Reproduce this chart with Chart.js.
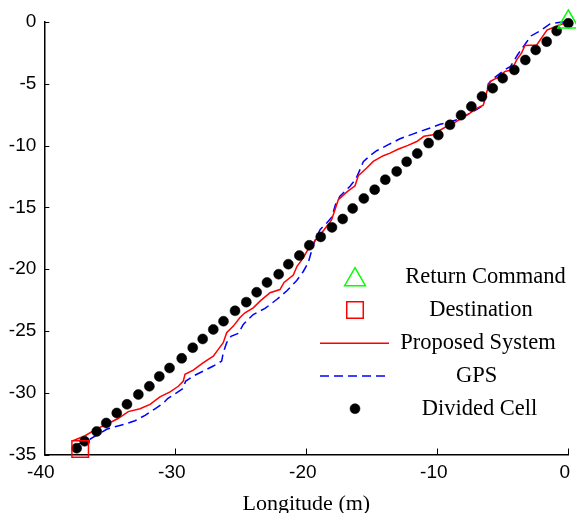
<!DOCTYPE html>
<html>
<head>
<meta charset="utf-8">
<script src="https://cdn.jsdelivr.net/npm/chart.js@4/dist/chart.umd.min.js"></script>
<style>
  html, body { margin: 0; padding: 0; background: #fff; }
  canvas { display: block; }
</style>
</head>
<body>
<canvas id="c" width="576" height="513"></canvas>
<script>
// ---- data ----
const returnCommand = [{x: 0, y: 0}];
const destination = [{x: -37.26, y: -34.56}];

const proposedX = [-37.81,-36.89,-36.0,-35.24,-34.37,-33.59,-32.69,-31.93,-31.17,-30.40,-29.77,-29.39,-29.26,-28.63,-27.86,-27.10,-26.72,-26.34,-26.08,-25.57,-25.06,-24.68,-24.05,-23.53,-22.77,-22.01,-21.70,-20.99,-20.71,-20.23,-19.95,-19.47,-18.80,-18.08,-17.81,-17.56,-16.85,-16.28,-16.03,-15.39,-14.89,-14.12,-13.61,-13.0,-12.24,-11.57,-11.02,-10.31,-9.80,-9.28,-8.65,-8.04,-7.50,-6.97,-6.49,-6.23,-5.98,-5.37,-4.83,-4.32,-3.94,-3.56,-3.31,-2.41,-1.63,-0.79,0];
const proposedY = [-33.89,-33.48,-32.92,-32.55,-32.09,-31.53,-31.30,-30.94,-30.33,-29.93,-29.48,-29.06,-28.51,-28.17,-27.57,-27.04,-26.49,-25.95,-25.15,-24.61,-23.91,-23.53,-23.13,-22.59,-21.91,-21.65,-21.08,-20.48,-19.77,-19.09,-18.55,-17.88,-17.04,-16.03,-15.19,-14.38,-13.71,-13.25,-12.44,-11.82,-11.28,-10.82,-10.61,-10.30,-9.98,-9.67,-9.25,-9.13,-8.76,-8.44,-8.12,-7.71,-7.38,-6.97,-6.74,-5.69,-4.82,-4.48,-4.0,-3.88,-3.07,-2.50,-1.90,-1.86,-0.65,-0.28,0];

const gpsX = [-37.50,-36.64,-36.0,-35.24,-34.60,-33.84,-33.08,-32.31,-31.55,-30.92,-30.56,-30.02,-29.39,-29.22,-28.63,-27.60,-27.10,-26.46,-26.34,-26.08,-25.75,-25.19,-24.81,-24.05,-23.15,-22.26,-21.50,-20.73,-20.23,-19.85,-19.59,-19.34,-18.95,-18.44,-18.06,-17.77,-17.43,-16.66,-16.21,-15.90,-15.65,-15.14,-14.63,-13.74,-12.85,-11.83,-10.71,-9.79,-9.18,-8.42,-7.73,-6.97,-6.49,-6.23,-6.11,-5.60,-4.98,-4.41,-3.88,-3.18,-2.85,-2.16,-1.40,-0.48,0];
const gpsY = [-34.21,-33.84,-33.44,-32.96,-32.75,-32.55,-32.27,-31.83,-31.30,-30.86,-30.45,-30.09,-29.64,-29.08,-28.65,-28.11,-27.84,-27.44,-26.76,-25.95,-25.44,-25.20,-24.47,-23.67,-23.18,-22.46,-21.77,-20.92,-20.19,-19.47,-18.50,-17.69,-16.80,-16.26,-15.79,-14.78,-14.10,-13.29,-12.68,-11.95,-11.31,-10.82,-10.42,-9.93,-9.45,-9.05,-8.64,-8.28,-8.12,-7.88,-7.51,-7.07,-6.74,-5.76,-5.01,-4.48,-3.96,-3.59,-2.67,-1.62,-1.13,-0.73,-0.16,0,0.02];

const cellX = [-37.53,-36.92,-36.0,-35.27,-34.47,-33.69,-32.82,-31.98,-31.22,-30.44,-29.51,-28.67,-27.91,-27.10,-26.32,-25.44,-24.58,-23.79,-23.0,-22.11,-21.37,-20.53,-19.77,-18.90,-18.04,-17.22,-16.46,-15.61,-14.78,-13.97,-13.10,-12.34,-11.53,-10.66,-9.92,-9.03,-8.19,-7.40,-6.59,-5.77,-5.01,-4.12,-3.28,-2.49,-1.65,-0.89,0.0];
const cellY = [-34.49,-33.93,-33.14,-32.45,-31.64,-30.94,-30.15,-29.48,-28.68,-28.0,-27.22,-26.36,-25.65,-24.88,-24.21,-23.37,-22.67,-21.87,-21.08,-20.41,-19.60,-18.90,-18.07,-17.39,-16.62,-15.94,-15.09,-14.28,-13.57,-12.76,-12.09,-11.31,-10.64,-9.80,-9.15,-8.32,-7.54,-6.84,-6.03,-5.36,-4.55,-3.88,-3.07,-2.26,-1.59,-0.73,-0.1];

const xTicks = [-40, -30, -20, -10, 0];
const yTicks = [-35, -30, -25, -20, -15, -10, -5, 0];
const seriesLabels = ['Return Command', 'Destination', 'Proposed System', 'GPS', 'Divided Cell'];
const xTitle = 'Longitude (m)';

const zip = (xs, ys) => xs.map((v, i) => ({x: v, y: ys[i]}));

const SANS = "'Liberation Sans', Arial, sans-serif";
const SERIF = "'Liberation Serif', 'Times New Roman', serif";

function drawMarker(ctx, style, x, y, r, color, fill, lw) {
  ctx.save();
  ctx.strokeStyle = color; ctx.fillStyle = color; ctx.lineWidth = lw;
  ctx.beginPath();
  if (style === 'triangle') {
    ctx.moveTo(x, y - r);
    ctx.lineTo(x + Math.sin(2*Math.PI/3) * r, y + r/2);
    ctx.lineTo(x - Math.sin(2*Math.PI/3) * r, y + r/2);
    ctx.closePath();
  } else if (style === 'rect') {
    const s = Math.SQRT1_2 * r;
    ctx.rect(x - s, y - s, 2*s, 2*s);
  } else {
    ctx.arc(x, y, r, 0, Math.PI*2);
  }
  if (fill) ctx.fill();
  ctx.stroke();
  ctx.restore();
}

const axisDecor = {
  id: 'axisDecor',
  afterDraw(chart) {
    const {ctx, chartArea, scales: {x, y}} = chart;
    ctx.save();
    ctx.strokeStyle = '#000';
    ctx.lineWidth = 1;
    x.ticks.forEach(t => {
      const px = Math.round(x.getPixelForValue(t.value)) + 0.5;
      ctx.beginPath(); ctx.moveTo(px, chartArea.bottom); ctx.lineTo(px, chartArea.bottom - 6); ctx.stroke();
    });
    y.ticks.forEach(t => {
      const py = Math.round(y.getPixelForValue(t.value)) + 0.5;
      ctx.beginPath(); ctx.moveTo(chartArea.left, py); ctx.lineTo(chartArea.left + 5, py); ctx.stroke();
    });
    ctx.restore();

    // legend (no box), symbols on the left, centred labels
    const rowsY = [276.7, 310, 343.3, 376, 408.7];
    const textCx = [485.5, 481, 478, 476.7, 479.5];
    const symX = 355, lineX0 = 320, lineX1 = 389;
    ctx.save();
    ctx.font = '22.5px ' + SERIF;
    ctx.fillStyle = '#000';
    ctx.textAlign = 'center';
    ctx.textBaseline = 'middle';
    chart.data.datasets.forEach((ds, i) => {
      const yy = rowsY[i];
      if (ds.showLine) {
        ctx.save();
        ctx.strokeStyle = ds.borderColor; ctx.lineWidth = ds.borderWidth;
        ctx.setLineDash(ds.borderDash || []);
        ctx.beginPath(); ctx.moveTo(lineX0, yy); ctx.lineTo(lineX1, yy); ctx.stroke();
        ctx.restore();
      } else {
        const filled = ds.pointBackgroundColor !== 'rgba(0,0,0,0)';
        drawMarker(ctx, ds.pointStyle, symX, yy + (ds.pointStyle === 'triangle' ? 3 : 0), ds.pointRadius,
                   ds.pointBorderColor, filled, ds.pointBorderWidth);
      }
      ctx.fillText(ds.label, textCx[i], yy);
    });
    ctx.restore();
  }
};

new Chart(document.getElementById('c'), {
  type: 'scatter',
  data: {
    datasets: [
      { label: seriesLabels[0], data: returnCommand, showLine: false, pointStyle: 'triangle',
        pointRadius: 12, pointBorderColor: '#00ff00', pointBackgroundColor: 'rgba(0,0,0,0)',
        pointBorderWidth: 1.5, order: 0, clip: false },
      { label: seriesLabels[1], data: destination, showLine: false, pointStyle: 'rect',
        pointRadius: 11.7, pointBorderColor: '#ff0000', pointBackgroundColor: 'rgba(0,0,0,0)',
        pointBorderWidth: 1.5, order: 1, clip: false },
      { label: seriesLabels[2], data: zip(proposedX, proposedY), showLine: true,
        borderColor: '#ff0000', borderWidth: 1.5, pointRadius: 0, tension: 0, order: 3, clip: false },
      { label: seriesLabels[3], data: zip(gpsX, gpsY), showLine: true, borderDash: [9, 5],
        borderColor: '#0000ff', borderWidth: 1.5, pointRadius: 0, tension: 0, order: 4, clip: false },
      { label: seriesLabels[4], data: zip(cellX, cellY), showLine: false, pointStyle: 'circle',
        pointRadius: 5, pointBorderColor: '#000', pointBackgroundColor: '#000',
        pointBorderWidth: 0.5, order: 2, clip: false }
    ]
  },
  options: {
    responsive: false,
    animation: false,
    events: [],
    layout: { autoPadding: false, padding: { top: 22, right: 7.7, left: 0, bottom: 0 } },
    plugins: { legend: { display: false }, tooltip: { enabled: false } },
    scales: {
      x: {
        type: 'linear', min: -40, max: 0,
        afterBuildTicks: s => { s.ticks = xTicks.map(v => ({value: v})); },
        afterFit: s => { s.height = 58.5; s.paddingLeft = 0; s.paddingRight = 0; },
        grid: { display: false, drawTicks: false },
        border: { display: true, color: '#000', width: 1.5 },
        ticks: { color: '#000', font: { family: SANS, size: 19 }, padding: 7, labelOffset: -3.5,
                 maxRotation: 0, autoSkip: false },
        title: { display: true, text: xTitle, color: '#000',
                 font: { family: SERIF, size: 22, lineHeight: 0.8 }, padding: { top: 0, bottom: 0 } }
      },
      y: {
        type: 'linear', min: -35, max: 0,
        afterBuildTicks: s => { s.ticks = yTicks.map(v => ({value: v})); },
        afterFit: s => { s.width = 44.3; s.paddingTop = 0; s.paddingBottom = 0; },
        grid: { display: false, drawTicks: false },
        border: { display: true, color: '#000', width: 1.5 },
        ticks: { color: '#000', font: { family: SANS, size: 19 }, padding: 8, autoSkip: false }
      }
    }
  },
  plugins: [axisDecor]
});
</script>
</body>
</html>
